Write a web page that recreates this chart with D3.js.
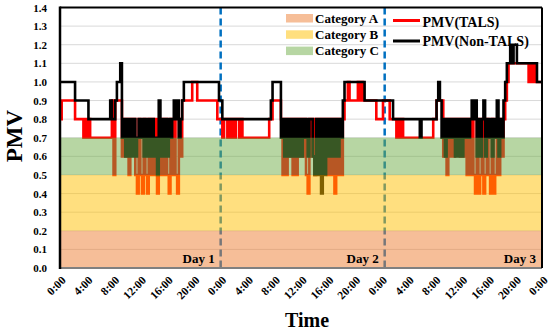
<!DOCTYPE html>
<html lang="en">
<head>
<meta charset="utf-8">
<title>PMV TALS vs Non-TALS</title>
<script src="https://cdn.jsdelivr.net/npm/d3@7"></script>
<style>
body { margin: 0; background: #fff; }
svg text { font-family: "Liberation Serif", "Times New Roman", serif; font-weight: bold; fill: #000; }
</style>
</head>
<body>
<svg id="chart" width="550" height="333"></svg>
<script>

// PMV read every 15 minutes over three days (last value closes the 72:00 edge)
var pmvTals = [
  // day 1
  0.8,0.9,0.9,0.9, 0.9,0.9,0.9,0.9, 0.9,0.8,0.8,0.8, 0.8,0.8,0.7,0.8,
  0.7,0.8,0.7,0.7, 0.7,0.7,0.7,0.7, 0.7,0.7,0.7,0.7, 0.7,0.7,0.7,0.9,
  0.5,0.9,0.9,0.9, 0.9,0.6,0.8,0.6, 0.8,0.5,0.8,0.7, 0.8,0.5,0.4,0.8,
  0.5,0.4,0.8,0.5, 0.4,0.8,0.5,0.8, 0.5,0.8,0.4,0.8, 0.5,0.8,0.5,0.8,
  0.5,0.4,0.8,0.5, 0.8,0.5,0.4,0.8, 0.6,0.9,0.9,0.9, 0.9,0.9,0.9,1.0,
  1.0,1.0,0.9,0.9, 0.9,0.9,0.9,0.9, 0.9,0.9,0.9,0.9, 0.9,0.9,0.8,0.8,
  // day 2
  0.8,0.7,0.8,0.8, 0.7,0.8,0.7,0.8, 0.7,0.8,0.8,0.7, 0.8,0.7,0.7,0.7,
  0.7,0.7,0.7,0.7, 0.7,0.7,0.7,0.7, 0.7,0.7,0.7,0.7, 0.7,0.8,0.8,0.9,
  0.9,0.9,0.9,0.9, 0.8,0.5,0.8,0.5, 0.8,0.6,0.8,0.5, 0.8,0.5,0.8,0.6,
  0.8,0.6,0.8,0.5, 0.4,0.8,0.6,0.8, 0.5,0.8,0.6,0.8, 0.6,0.8,0.6,0.8,
  0.5,0.8,0.5,0.8, 0.4,0.8,0.5,0.8, 0.5,0.8,0.9,0.9, 1.0,0.9,0.9,0.9,
  0.9,0.9,1.0,0.9, 1.0,0.9,0.9,0.9, 0.9,0.9,0.9,0.9, 0.9,0.8,0.8,0.8,
  // day 3
  0.8,0.9,0.9,0.9, 0.9,0.8,0.8,0.8, 0.8,0.7,0.8,0.7, 0.8,0.7,0.7,0.7,
  0.7,0.7,0.7,0.7, 0.7,0.7,0.7,0.7, 0.7,0.7,0.7,0.7, 0.7,0.7,0.7,0.8,
  0.8,0.9,0.9,0.9, 0.9,0.6,0.8,0.5, 0.8,0.6,0.8,0.6, 0.8,0.7,0.8,0.6,
  0.8,0.6,0.8,0.5, 0.8,0.5,0.8,0.5, 0.4,0.8,0.4,0.5, 0.8,0.4,0.5,0.8,
  0.5,0.4,0.8,0.4, 0.5,0.8,0.5,0.8, 0.6,0.8,0.9,1.0, 1.1,1.1,1.1,1.1,
  1.1,1.1,1.1,1.1, 1.1,1.1,1.1,1.1, 1.0,1.1,1.0,1.1, 1.0,1.0,1.0,1.0,
  1.0
];

var pmvNonTals = [
  // day 1
  1.0,1.0,1.0,1.0, 1.0,1.0,1.0,1.0, 1.0,0.9,0.9,0.9, 0.9,0.9,0.9,0.9,
  0.9,0.8,0.8,0.8, 0.8,0.8,0.8,0.8, 0.8,0.8,0.8,0.8, 0.8,0.8,0.9,0.8,
  0.8,0.9,1.0,1.0, 1.1,0.7,0.8,0.6, 0.8,0.6,0.8,0.6, 0.8,0.6,0.7,0.8,
  0.7,0.8,0.6,0.8, 0.6,0.8,0.6,0.8, 0.6,0.7,0.5,0.9, 0.6,0.8,0.6,0.8,
  0.6,0.8,0.7,0.8, 0.9,0.8,0.9,0.7, 0.8,0.9,1.0,1.0, 1.0,1.0,1.0,1.0,
  1.0,1.0,1.0,1.0, 1.0,1.0,1.0,1.0, 1.0,1.0,1.0,1.0, 1.0,1.0,1.0,0.9,
  // day 2
  0.9,0.8,0.8,0.8, 0.8,0.8,0.8,0.8, 0.8,0.8,0.8,0.8, 0.8,0.8,0.8,0.8,
  0.8,0.8,0.8,0.8, 0.8,0.8,0.8,0.8, 0.8,0.8,0.8,0.8, 0.8,0.8,0.9,1.0,
  1.0,1.0,1.0,1.0, 0.7,0.8,0.6,0.8, 0.6,0.8,0.6,0.8, 0.6,0.8,0.6,0.8,
  0.6,0.8,0.7,0.8, 0.6,0.8,0.8,0.6, 0.5,0.8,0.5,0.8, 0.4,0.8,0.5,0.8,
  0.6,0.8,0.6,0.8, 0.6,0.8,0.6,0.8, 0.7,0.9,1.0,1.0, 1.0,1.0,1.0,1.0,
  1.0,1.0,1.0,1.0, 1.0,1.0,0.9,0.9, 0.9,0.9,0.9,0.9, 0.9,0.9,0.9,0.9,
  // day 3
  0.9,0.9,0.9,0.9, 0.9,0.9,0.9,0.8, 0.8,0.8,0.8,0.8, 0.8,0.8,0.8,0.8,
  0.8,0.8,0.8,0.8, 0.8,0.8,0.8,0.7, 0.8,0.8,0.8,0.8, 0.8,0.8,0.8,0.8,
  0.8,0.9,1.0,0.9, 0.7,0.8,0.6,0.8, 0.7,0.8,0.7,0.8, 0.6,0.8,0.6,0.8,
  0.6,0.8,0.7,0.8, 0.7,0.8,0.9,0.8, 0.9,0.6,0.8,0.6, 0.8,0.9,0.6,0.8,
  0.7,0.8,0.6,0.8, 0.7,0.9,0.6,0.8, 0.7,0.9,1.0,1.1, 1.1,1.2,1.1,1.2,
  1.2,1.1,1.1,1.1, 1.1,1.1,1.1,1.1, 1.1,1.1,1.1,1.1, 1.1,1.0,1.0,1.0,
  1.0
];

var stepHours = 0.25;

// comfort categories (PMV bands)
var bandNames = ["Category A", "Category B", "Category C"];
var bandLow = [0.0, 0.2, 0.5];
var bandHigh = [0.2, 0.5, 0.7];

var seriesNames = ["PMV(TALS)", "PMV(Non-TALS)"];

var tickHours = [0, 4, 8, 12, 16, 20, 24, 28, 32, 36, 40, 44, 48, 52, 56, 60, 64, 68, 72];
var tickLabels = ["0:00", "4:00", "8:00", "12:00", "16:00", "20:00",
                  "0:00", "4:00", "8:00", "12:00", "16:00", "20:00",
                  "0:00", "4:00", "8:00", "12:00", "16:00", "20:00", "0:00"];
var yTicks = [0, 0.1, 0.2, 0.3, 0.4, 0.5, 0.6, 0.7, 0.8, 0.9, 1.0, 1.1, 1.2, 1.3, 1.4];

var dayNames = ["Day 1", "Day 2", "Day 3"];
var dayEndHours = [24, 48.5, 72];
var dividerHours = [24, 48.5];

var bandColors = ["#ED7D31", "#FFC000", "#70AD47"];
var lineColors = ["#FF0000", "#000000"];

var plotL = 60, plotR = 542, plotT = 7.5, plotB = 268;

var svg = d3.select("#chart");

var x = d3.scaleLinear().domain([0, 72]).range([plotL, plotR]);
var y = d3.scaleLinear().domain([0, 1.4]).range([plotB, plotT]);

// gridlines
svg.append("g")
    .selectAll("line")
    .data(yTicks.slice(1))
  .enter().append("line")
    .attr("x1", plotL).attr("x2", plotR)
    .attr("y1", function(d) { return y(d); })
    .attr("y2", function(d) { return y(d); })
    .attr("stroke", "#d9d9d9")
    .attr("stroke-width", 1);

// day dividers
svg.append("g")
    .selectAll("line")
    .data(dividerHours)
  .enter().append("line")
    .attr("x1", function(d) { return x(d); })
    .attr("x2", function(d) { return x(d); })
    .attr("y1", plotT).attr("y2", plotB)
    .attr("stroke", "#0070C0")
    .attr("stroke-width", 2.5)
    .attr("stroke-dasharray", "7,4");

var line = d3.line()
    .x(function(d, i) { return x(i * stepHours); })
    .y(function(d) { return y(d); })
    .curve(d3.curveStepAfter);

svg.append("path")
    .attr("d", line(pmvTals))
    .attr("fill", "none")
    .attr("stroke", lineColors[0])
    .attr("stroke-width", 2.6);

svg.append("path")
    .attr("d", line(pmvNonTals))
    .attr("fill", "none")
    .attr("stroke", lineColors[1])
    .attr("stroke-width", 2.6);

// bands sit on top, half transparent
svg.append("g")
    .selectAll("rect")
    .data(bandNames)
  .enter().append("rect")
    .attr("x", plotL)
    .attr("width", plotR - plotL)
    .attr("y", function(d, i) { return y(bandHigh[i]); })
    .attr("height", function(d, i) { return y(bandLow[i]) - y(bandHigh[i]); })
    .attr("fill", function(d, i) { return bandColors[i]; })
    .attr("fill-opacity", 0.5);

// frame
svg.append("line").attr("x1", plotL).attr("x2", plotR).attr("y1", plotB).attr("y2", plotB)
    .attr("stroke", "#808080").attr("stroke-width", 2);
svg.append("line").attr("x1", plotL).attr("x2", plotR).attr("y1", plotT).attr("y2", plotT)
    .attr("stroke", "#000").attr("stroke-width", 2);
svg.append("line").attr("x1", plotR).attr("x2", plotR).attr("y1", plotT).attr("y2", plotB)
    .attr("stroke", "#000").attr("stroke-width", 2);
svg.append("line").attr("x1", plotL).attr("x2", plotL).attr("y1", plotT - 1).attr("y2", plotB + 1)
    .attr("stroke", "#000").attr("stroke-width", 2.5);

// y axis labels
var yAxis = d3.axisLeft(y).tickValues(yTicks).tickFormat(d3.format(".1f")).tickSize(0).tickPadding(13);
var gy = svg.append("g").attr("transform", "translate(" + plotL + ",0)").call(yAxis);
gy.select(".domain").remove();
gy.selectAll("text").style("font-size", "11px");

// x axis labels
var xAxis = d3.axisBottom(x).tickValues(tickHours)
    .tickFormat(function(d, i) { return tickLabels[i]; }).tickSize(0);
var gx = svg.append("g").attr("transform", "translate(0," + plotB + ")").call(xAxis);
gx.select(".domain").remove();
gx.selectAll("text")
    .style("font-size", "11.5px")
    .attr("text-anchor", "end")
    .attr("dy", null)
    .attr("y", 0)
    .attr("transform", "translate(6,13) rotate(-45)");

// day labels
svg.append("g")
    .selectAll("text")
    .data(dayNames)
  .enter().append("text")
    .attr("x", function(d, i) { return x(dayEndHours[i]) - 6; })
    .attr("y", plotB - 5)
    .attr("text-anchor", "end")
    .style("font-size", "13px")
    .text(function(d) { return d; });

// axis titles
svg.append("text")
    .attr("transform", "translate(22,136) rotate(-90)")
    .attr("text-anchor", "middle")
    .style("font-size", "23px")
    .text("PMV");

svg.append("text")
    .attr("x", 307).attr("y", 327)
    .attr("text-anchor", "middle")
    .style("font-size", "20px")
    .text("Time");

// legend
var legBands = svg.append("g");
bandNames.forEach(function(name, i) {
  legBands.append("rect")
      .attr("x", 286).attr("y", 14 + i * 16.3)
      .attr("width", 27).attr("height", 8.5)
      .attr("fill", bandColors[i]).attr("fill-opacity", 0.5);
  legBands.append("text")
      .attr("x", 315).attr("y", 22.5 + i * 16.3)
      .style("font-size", "13px")
      .text(name);
});

var legLines = svg.append("g");
seriesNames.forEach(function(name, i) {
  legLines.append("line")
      .attr("x1", 393).attr("x2", 420)
      .attr("y1", 20.5 + i * 20.5).attr("y2", 20.5 + i * 20.5)
      .attr("stroke", lineColors[i]).attr("stroke-width", 3);
  legLines.append("text")
      .attr("x", 422.5).attr("y", 26.5 + i * 19)
      .style("font-size", "14px")
      .text(name);
});

</script>
</body>
</html>
